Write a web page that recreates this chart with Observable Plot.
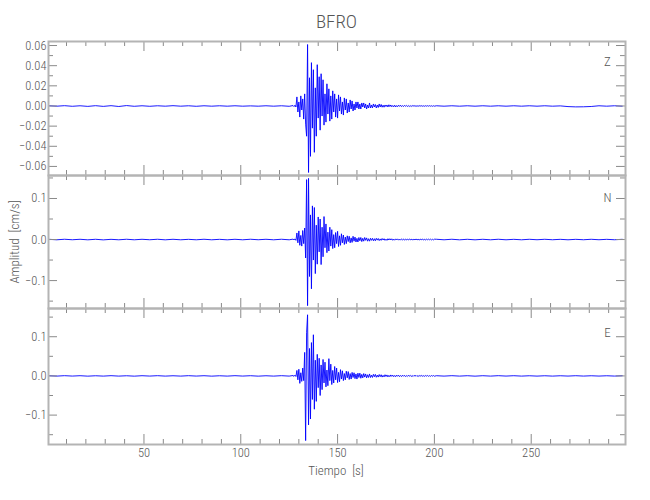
<!DOCTYPE html>
<html>
<head>
<meta charset="utf-8">
<script src="https://cdn.jsdelivr.net/npm/d3@7"></script>
<script src="https://cdn.jsdelivr.net/npm/@observablehq/plot@0.6"></script>
<style>
  html, body { margin: 0; padding: 0; background: #fff; }
  #chart { position: relative; width: 650px; height: 500px; overflow: hidden;
    font-family: "Liberation Sans Narrow", "Roboto Condensed", Roboto, sans-serif; color: #555; }
  #title { position: absolute; left: 48px; width: 577px; top: 10px; text-align: center; font-size: 19px; color: #555; font-weight: 300; }
  #ylab { position: absolute; left: 14px; top: 242px; transform: translate(-50%, -50%) rotate(-90deg); white-space: pre; font-size: 13px; color: #555; font-weight: 300; }
  #xlab { position: absolute; left: 336px; top: 470px; transform: translate(-50%, -50%); white-space: pre; font-size: 13px; color: #555; font-weight: 300; }
</style>
</head>
<body>
<div id="chart">
  <div id="title">BFRO</div>
  <div id="ylab">Amplitud  [cm/s]</div>
  <div id="xlab">Tiempo  [s]</div>
</div>
<script>
// ---- Data (cm/s) ----
const station = "BFRO";
const components = ["Z", "N", "E"];
// sampling grids (s)
const preTimes = d3.range(1, 126, 4);          // 1 .. 125 every 4 s
const denseTimes = d3.range(0, 147).map(i => 127 + i * 0.5); // 127 .. 200 every 0.5 s
const postTimes = d3.range(201, 298, 4);       // 201 .. 297 every 4 s

const zPre = [.0002,-.0002,.0003,-.0003,.0002,-.0004,.0003,-.0004,.0003,-.0005,.0004,-.0003,.0002,-.0003,.0002,-.0002,.0003,-.0002,.0002,-.0003,.0002,-.0002,.0002,-.0002,.0002,-.0002,.0001,-.0002,.0002,-.0002,.0002,-.0003];
const zDense = [
  .0004,-.0006,.0008,-.001,.009,-.006,.004,-.011,.010,-.004,
  .007,-.013,.012,-.018,-.030,.061,-.066,.028,-.050,.043,
  -.022,.036,-.046,.018,-.030,.041,-.012,.029,-.024,.032,
  -.010,.026,-.019,.012,-.016,.022,-.008,.017,-.015,.010,
  -.013,.015,-.006,.012,-.011,.007,-.012,.011,-.005,.009,
  -.008,.004,-.009,.008,-.004,.007,-.007,.003,-.006,.006,
  -.003,.005,-.005,.002,-.004,.004,-.002,.004,-.003,.002,
  -.003,.003,-.001,.003,-.002,.002,-.003,.001,-.002,.003,
  -.002,.001,-.002,.002,-.001,.0015,-.002,.001,-.0015,.002,
  -.001,.0015,-.0012,.0008,-.0012,.001,-.0006,.001,-.001,.0012,
  -.0006,.001,-.0008,.0005,-.0008,.0008,-.001,.0004,-.0007,.0008,
  -.0004,.0008,-.0006,.0004,-.0006,.0006,-.0003,.0006,-.0005,.0004,
  -.0005,.0003,-.0005,.0004,-.0002,.0005,-.0004,.0003,-.0004,.0003,
  -.0003,.0004,-.0002,.0003,-.0003,.0002,-.0003,.0003,-.0002,.0003,
  -.0002,.0003,-.0002,.0002,-.0003,.0002,-.0002];
const zPost = [.0002,-.0002,.0002,-.0002,.0002,-.0002,.0002,-.0002,.0002,-.0002,.0002,-.0002,.0002,-.0002,.0002,-.0002,.0001,-.0006,-.0009,-.0008,-.0005,.0002,-.0002,.0002,-.0002];

const nPre = [.0005,-.0006,.0007,-.0005,.0006,-.0007,.0006,-.0008,.0005,-.0006,.0007,-.0006,.0006,-.0005,.0007,-.0007,.0006,-.0006,.0005,-.0006,.0007,-.0006,.0005,-.0007,.0006,-.0006,.0007,-.0005,.0006,-.0006,.0007,-.0006];
const nDense = [
  .001,-.0008,.0015,-.002,.016,-.008,.021,-.014,.010,-.016,
  .022,-.010,.028,-.045,.146,-.161,.149,-.090,.060,-.120,
  .082,-.050,.078,-.083,.035,-.060,.055,-.030,.050,-.061,
  .030,-.042,.056,-.020,.038,-.032,.018,-.028,.030,-.016,
  .024,-.022,.012,-.020,.017,-.010,.020,-.017,.009,-.014,
  .014,-.008,.011,-.012,.006,-.010,.009,-.005,.008,-.008,
  .004,-.007,.008,-.004,.006,-.006,.003,-.006,.005,-.003,
  .005,-.005,.003,-.004,.005,-.002,.004,-.004,.002,-.004,
  .003,-.002,.003,-.003,.002,-.003,.003,-.0015,.0025,-.0025,
  .0015,-.002,.0025,-.0012,.002,-.002,.001,-.002,.002,-.0012,
  .002,-.0012,.0018,-.0018,.001,-.0016,.0016,-.001,.0016,-.0015,
  .001,-.0015,.0015,-.0008,.0014,-.0014,.0008,-.0013,.0013,-.0009,
  .0013,-.0008,.0012,-.0012,.0007,-.0012,.0012,-.0007,.0011,-.0011,
  .0007,-.0011,.0011,-.0006,.001,-.001,.0006,-.001,.001,-.0006,
  .001,-.0006,.0009,-.0009,.0006,-.0008,.0008];
const nPost = [.0007,-.0006,.0007,-.0007,.0006,-.0007,.0006,-.0006,.0007,-.0006,.0005,-.0006,.0006,-.0005,.0006,-.0005,.0005,-.0006,.0005,-.0005,.0006,-.0005,.0005,-.0005,.0005];

const ePre = [.0004,-.0005,.0006,-.0004,.0005,-.0006,.0004,-.0005,.0006,-.0005,.0004,-.0006,.0005,-.0004,.0006,-.0005,.0004,-.0005,.0006,-.0004,.0005,-.0006,.0004,-.0005,.0006,-.0004,.0005,-.0006,.0004,-.0005,.0006,-.0005];
const eDense = [
  .001,-.0012,.002,-.0015,.014,-.010,.017,-.019,.008,-.014,
  .020,-.012,.060,-.165,.110,.156,-.125,.070,-.110,.085,
  -.060,.105,-.085,.040,-.065,.055,-.030,.045,-.050,.028,
  -.035,.042,-.018,.035,-.028,.015,-.025,.044,-.012,.030,
  -.022,.014,-.018,.024,-.010,.020,-.017,.009,-.015,.016,
  -.008,.013,-.012,.006,-.010,.012,-.005,.011,-.009,.006,
  -.008,.009,-.004,.008,-.007,.005,-.008,.007,-.004,.007,
  -.006,.004,-.005,.006,-.003,.005,-.005,.003,-.004,.005,
  -.004,.002,-.004,.004,-.002,.004,-.0035,.002,-.003,.0035,
  -.002,.003,-.003,.0015,-.0025,.003,-.0015,.0025,-.0025,.0015,
  -.002,.0025,-.0012,.002,-.002,.0012,-.002,.002,-.001,.002,
  -.0018,.001,-.0016,.0018,-.001,.0016,-.0015,.0009,-.0015,.0015,
  -.0009,.0015,-.0014,.0008,-.0013,.0014,-.0008,.0013,-.0012,.0008,
  -.0012,.0012,-.0007,.0012,-.0011,.0007,-.0011,.0011,-.0006,.0011,
  -.001,.0006,-.001,.001,-.0006,.001,-.0008];
const ePost = [.0005,-.0005,.0006,-.0005,.0005,-.0006,.0005,-.0005,.0006,-.0004,.0005,-.0005,.0004,-.0005,.0004,-.0005,.0004,-.0004,.0005,-.0004,.0004,-.0004,.0004,-.0004,.0004];

// axis ticks
const xMajor = [50, 100, 150, 200, 250];
const xMinor = [10,20,30,40,60,70,80,90,110,120,130,140,160,170,180,190,210,220,230,240,260,270,280,290];
const zMajor = [-0.06,-0.04,-0.02,0,0.02,0.04,0.06];
const zMinor = [-0.05,-0.03,-0.01,0.01,0.03,0.05];
const neMajor = [-0.1, 0, 0.1];
const neMinor = [-0.15,-0.05,0.05,0.15];

// ---- build ----
function series(pre, dense, post) {
  const rows = [];
  preTimes.forEach((t, i) => rows.push({t, v: pre[i]}));
  denseTimes.forEach((t, i) => rows.push({t, v: dense[i]}));
  postTimes.forEach((t, i) => rows.push({t, v: post[i]}));
  return rows;
}

const W = 650, ML = 48, MR = 25;
const FW = W - ML - MR;
const font = '"Liberation Sans Narrow", "Roboto Condensed", Roboto, sans-serif';

function panel({rows, yDomain, major, minor, fmt, label, top, height, mt, mb, showX, labelDy}) {
  const FH = height - mt - mb;
  const tickColor = "#8a8a8a";
  const marks = [
    Plot.line(rows, {x: "t", y: "v", stroke: "#0000ff", strokeWidth: 0.9, clip: true}),
    Plot.tickX(xMajor, {x: d => d, stroke: tickColor, insetTop: FH - 10}),
    Plot.tickX(xMinor, {x: d => d, stroke: tickColor, insetTop: FH - 5}),
    Plot.tickX(xMajor, {x: d => d, stroke: tickColor, insetBottom: FH - 10}),
    Plot.tickX(xMinor, {x: d => d, stroke: tickColor, insetBottom: FH - 5}),
    Plot.tickY(major, {y: d => d, stroke: tickColor, insetRight: FW - 9}),
    Plot.tickY(minor, {y: d => d, stroke: tickColor, insetRight: FW - 5}),
    Plot.tickY(major, {y: d => d, stroke: tickColor, insetLeft: FW - 9}),
    Plot.tickY(minor, {y: d => d, stroke: tickColor, insetLeft: FW - 5}),
    Plot.frame({stroke: "#b4b4b4", strokeWidth: 2}),
    Plot.axisY({ticks: major, tickSize: 0, tickPadding: 2, tickFormat: fmt, anchor: "left", label: null, fill: "#555", fontSize: 12.5}),
    Plot.text([label], {text: d => d, frameAnchor: "top-right", textAnchor: "middle", lineAnchor: "middle", dx: -18, dy: labelDy, fill: "#555", fontSize: 13})
  ];
  if (showX) marks.push(Plot.axisX({ticks: xMajor, tickSize: 0, tickPadding: 4, anchor: "bottom", label: null, fill: "#555", fontSize: 12.5}));
  const svg = Plot.plot({
    width: W, height, marginLeft: ML, marginRight: MR, marginTop: mt, marginBottom: mb,
    x: {domain: [0.7, 298.7], axis: showX ? undefined : null},
    y: {domain: yDomain, axis: null},
    style: {background: "transparent", overflow: "visible", fontFamily: font, fontSize: "12.5px", color: "#555", fontWeight: 300},
    marks
  });
  svg.style.position = "absolute";
  svg.style.top = top + "px";
  svg.style.left = "0px";
  document.getElementById("chart").appendChild(svg);
}

panel({rows: series(zPre, zDense, zPost), yDomain: [-0.069, 0.064], major: zMajor, minor: zMinor,
  fmt: d3.format(".2f"), label: components[0], top: 0, height: 175, mt: 41, mb: 0, showX: false, labelDy: 20});
panel({rows: series(nPre, nDense, nPost), yDomain: [-0.168, 0.156], major: neMajor, minor: neMinor,
  fmt: d3.format(".1f"), label: components[1], top: 175, height: 133, mt: 0, mb: 0, showX: false, labelDy: 22});
panel({rows: series(ePre, eDense, ePost), yDomain: [-0.175, 0.172], major: neMajor, minor: neMinor,
  fmt: d3.format(".1f"), label: components[2], top: 308, height: 192, mt: 0, mb: 56, showX: true, labelDy: 24});
</script>
</body>
</html>
